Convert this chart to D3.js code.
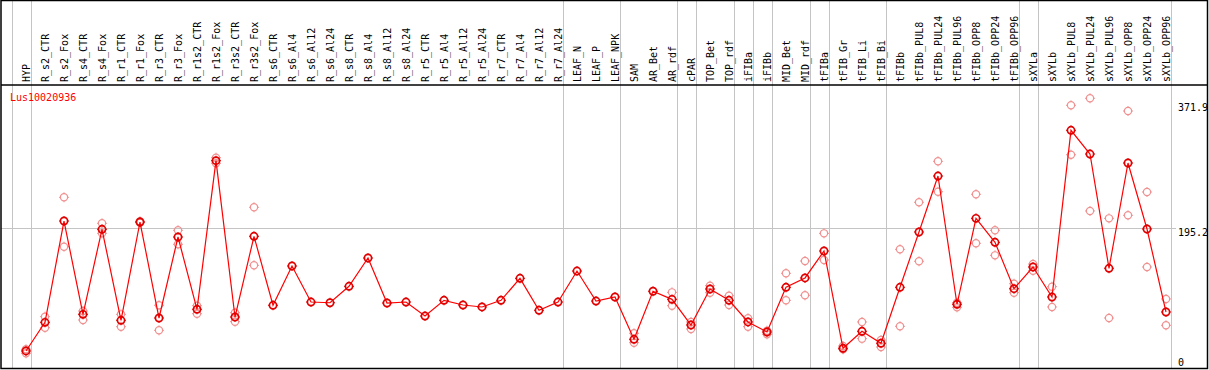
<!DOCTYPE html>
<html>
<head>
<meta charset="utf-8">
<script src="https://cdn.jsdelivr.net/npm/d3@7"></script>
<style>
  body { margin: 0; background: #fff; }
  svg { display: block; }
  text { font-family: "DejaVu Sans Mono", monospace; font-size: 10px; }
</style>
</head>
<body>
<div id="chart"></div>
<script>
let WIDTH = 1209;
let HEIGHT = 370;

const geneName = "Lus10020936";

const samples = ["HYP","R_s2_CTR","R_s2_Fox","R_s4_CTR","R_s4_Fox","R_r1_CTR","R_r1_Fox","R_r3_CTR","R_r3_Fox",
  "R_r1s2_CTR","R_r1s2_Fox","R_r3s2_CTR","R_r3s2_Fox","R_s6_CTR","R_s6_Al4","R_s6_Al12","R_s6_Al24",
  "R_s8_CTR","R_s8_Al4","R_s8_Al12","R_s8_Al24","R_r5_CTR","R_r5_Al4","R_r5_Al12","R_r5_Al24",
  "R_r7_CTR","R_r7_Al4","R_r7_Al12","R_r7_Al24","LEAF_N","LEAF_P","LEAF_NPK","SAM","AR_Bet","AR_rdf",
  "cPAR","TOP_Bet","TOP_rdf","iFIBa","iFIBb","MID_Bet","MID_rdf","tFIBa","tFIB_Gr","tFIB_Li","tFIB_Bi",
  "tFIBb","tFIBb_PUL8","tFIBb_PUL24","tFIBb_PUL96","tFIBb_OPP8","tFIBb_OPP24","tFIBb_OPP96",
  "sXYLa","sXYLb","sXYLb_PUL8","sXYLb_PUL24","sXYLb_PUL96","sXYLb_OPP8","sXYLb_OPP24","sXYLb_OPP96"];

// mean expression per sample
const means = [21.8,62.3,205.5,73.6,193.8,65.2,204.1,68.4,182.9,
  80.7,290.8,69.8,183.9,86.4,141.9,91.0,90.0,
  113.2,153.2,89.6,91.0,71.2,93.4,86.8,84.0,
  93.4,124.5,79.3,91.0,134.8,92.4,98.1,38.3,106.2,94.8,
  58.5,109.4,93.4,62.8,48.6,111.8,125.0,163.1,25.6,49.6,32.7,
  111.8,190.0,269.1,87.8,209.3,175.4,109.8,
  140.5,98.1,333.7,300.2,138.7,287.5,194.2,76.9];

// replicates (null = no replicate shown)
const rep1 = [24.2,70.3,239.0,78.3,202.3,73.6,205.1,86.4,192.4,
  85.8,295.0,75.9,224.9,null,null,null,null,
  null,null,null,null,null,null,null,null,
  null,null,null,null,null,null,null,46.8,null,104.7,
  62.8,114.1,99.9,68.0,50.5,131.6,149.0,188.1,28.8,62.8,37.3,
  165.5,232.0,289.9,90.0,243.3,192.4,116.9,
  144.7,112.7,369.1,379.0,209.3,361.0,246.5,95.3];
const rep2 = [18.5,54.7,169.2,65.6,188.1,56.1,203.1,51.0,172.6,
  74.5,287.1,63.2,142.9,null,null,null,null,
  null,null,null,null,null,null,null,null,
  null,null,null,null,null,null,null,33.5,null,85.8,
  52.9,104.2,86.8,56.1,45.4,93.4,100.5,150.4,24.2,39.2,27.4,
  56.7,148.6,246.9,83.5,174.0,157.0,104.2,
  135.3,84.0,299.2,219.7,68.4,213.6,140.5,58.1];

// last sample of each tissue group (separator drawn after it)
const groupEnds = ["HYP","R_r7_Al24","LEAF_NPK","AR_rdf","cPAR","TOP_rdf","iFIBa","iFIBb",
  "MID_rdf","tFIBa","tFIB_Bi","tFIBb_OPP96","sXYLa","sXYLb_OPP96"];

const yTicks = [371.9, 195.2, 0];
const gridValues = [195.2];

const svg = d3.select("#chart").append("svg")
    .attr("width", WIDTH)
    .attr("height", HEIGHT);

const x = d3.scalePoint()
    .domain(samples)
    .range([26, 1166]);
const step = x.step();

const y = d3.scaleLinear()
    .domain([0, 371.9])
    .range([366.4, 103.3]);

// separators
const sepX = [x(samples[0]) - step + 4.5].concat(groupEnds.map(d => x(d) + 4.5));
svg.append("g").selectAll("line").data(sepX).join("line")
    .attr("x1", d => Math.round(d) + 0.5).attr("x2", d => Math.round(d) + 0.5)
    .attr("y1", 0).attr("y2", 368)
    .attr("stroke", "#c4c4c4").attr("stroke-width", 1);

// horizontal grid
svg.append("g").selectAll("line").data(gridValues).join("line")
    .attr("x1", 1).attr("x2", 1176)
    .attr("y1", d => Math.round(y(d)) + 0.5).attr("y2", d => Math.round(y(d)) + 0.5)
    .attr("stroke", "#c4c4c4").attr("stroke-width", 1);

// frame
svg.append("rect")
    .attr("x", 1).attr("y", 0.5).attr("width", 1206.5).attr("height", 368)
    .attr("fill", "none").attr("stroke", "black").attr("stroke-width", 1.5);
svg.append("line")
    .attr("x1", 1).attr("x2", 1207.5).attr("y1", 85).attr("y2", 85)
    .attr("stroke", "black").attr("stroke-width", 1.5);

// sample labels
svg.append("g").selectAll("text").data(samples).join("text")
    .attr("transform", d => `translate(${x(d) + 4},82) rotate(-90)`)
    .attr("fill", "black")
    .text(d => d);

// right axis labels
const axis = svg.append("g")
    .attr("transform", "translate(1178,0)")
    .call(d3.axisRight(y).tickValues(yTicks).tickSize(0).tickPadding(0)
      .tickFormat(d => d === 0 ? "0" : d.toFixed(1)));
axis.select(".domain").remove();
axis.selectAll("text")
    .attr("fill", "black")
    .style("font-family", "DejaVu Sans Mono, monospace")
    .style("font-size", "10px")
    .attr("dy", d => d === 0 ? "-0.12em" : "0.69em");

// gene name
svg.append("text")
    .attr("x", 10).attr("y", 101)
    .attr("fill", "red")
    .text(geneName);

function marker(g, cx, cy, color, w) {
  g.append("circle").attr("cx", cx).attr("cy", cy).attr("r", 3.6)
    .attr("fill", "none").attr("stroke", color).attr("stroke-width", w);
  const t = [[0,-1],[0,1],[-1,0],[1,0]];
  t.forEach(function(p) {
    g.append("line")
      .attr("x1", cx + p[0]*3.6).attr("y1", cy + p[1]*3.6)
      .attr("x2", cx + p[0]*5).attr("y2", cy + p[1]*5)
      .attr("stroke", color).attr("stroke-width", 1);
  });
}

// replicates
const reps = svg.append("g");
samples.forEach(function(s, i) {
  [rep1[i], rep2[i]].forEach(function(v) {
    if (v !== null) marker(reps, x(s), y(v), "#f09090", 1.2);
  });
});

// mean line
const line = d3.line().x((d, i) => x(samples[i])).y(d => y(d));
svg.append("path")
    .attr("fill", "none")
    .attr("stroke", "red")
    .attr("stroke-width", 1.2)
    .attr("d", line(means));

const meanG = svg.append("g");
samples.forEach(function(s, i) {
  marker(meanG, x(s), y(means[i]), "#e00000", 1.7);
});
</script>
</body>
</html>
